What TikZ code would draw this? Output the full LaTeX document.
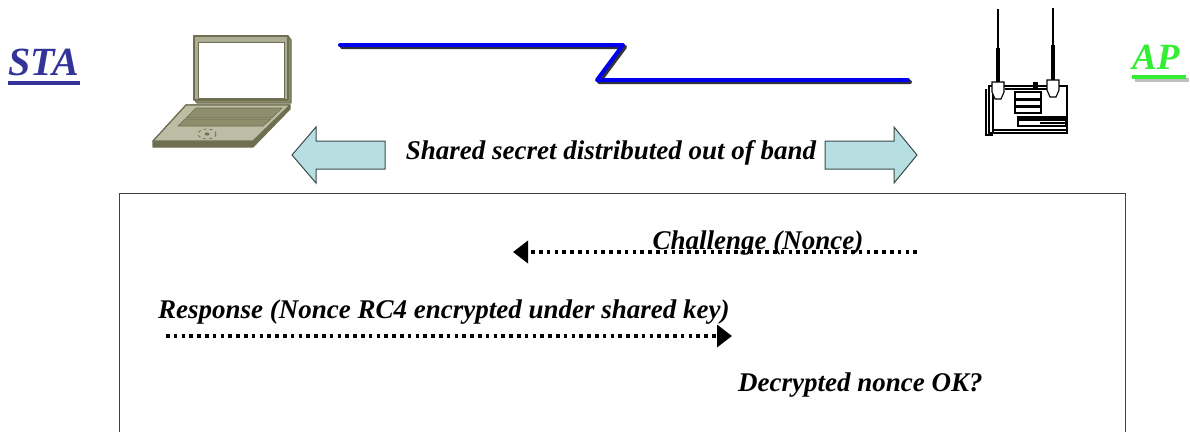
\documentclass[tikz,border=0pt]{standalone}
\usepackage{fontspec}
\setmainfont{Liberation Serif}
\usetikzlibrary{arrows.meta}

\definecolor{stablue}{HTML}{33339A}
\definecolor{apgreen}{HTML}{33EE33}
\definecolor{linkblue}{HTML}{0000EE}
\definecolor{arrowfill}{HTML}{B7DFE2}
\definecolor{arrowedge}{HTML}{3A4A4A}
\definecolor{olive}{HTML}{6E6E50}
\definecolor{olivelight}{HTML}{BDBDA6}
\definecolor{olivekey}{HTML}{8E8E6C}

\tikzset{
  lbl/.style={font=\fontsize{27}{30}\selectfont\bfseries\itshape, inner sep=0pt},
  endlbl/.style={inner sep=0pt, font=\fontsize{40}{44}\selectfont\bfseries\itshape},
  msg/.style={line width=3.6pt, dash pattern=on 3.6pt off 4.2pt,
              -{Triangle[length=15pt,width=22pt]}},
  bigarrow/.style={fill=arrowfill, draw=arrowedge, line width=1pt, line join=miter},
  olivedraw/.style={draw=olive, line width=1.2pt, line join=round},
  apline/.style={draw=black, line width=1.1pt},
}

\begin{document}
\begin{tikzpicture}[x=1pt,y=-1pt]
\useasboundingbox (0,0) rectangle (1190,431);

% end-point titles with underline bars
\node (sta) [endlbl, text=stablue, anchor=base west] at (8,75) {STA};
\fill[stablue] (8,81) rectangle (80,85);
\node (ap) [endlbl, text=apgreen, font=\fontsize{37}{40}\selectfont\bfseries\itshape, anchor=base west] at (1132,69) {AP};
\fill[black!25] (1135,78) rectangle (1189,82);
\fill[apgreen] (1132,75) rectangle (1186,79);

% laptop
\begin{scope}
  % lid
  \filldraw[olivedraw, fill=olivekey] (194,36) -- (288,36) -- (291,40) -- (291,103) -- (197,103) -- (194,99) -- cycle;
  \filldraw[olivedraw, fill=olivelight!80!olive] (194,36) rectangle (288,100);
  \filldraw[draw=olive, line width=0.8pt, fill=white] (198,42) rectangle (284,98);
  \fill[olive] (276,98) rectangle (285,101);
  % base
  \filldraw[olivedraw, fill=olive] (153,141) -- (186,105) -- (290,105) -- (290,109) -- (253,147) -- (153,147) -- cycle;
  \filldraw[olivedraw, fill=olivelight] (153,141) -- (186,105) -- (290,105) -- (253,141) -- cycle;
  % keyboard strips
  \filldraw[draw=olive, line width=0.6pt, fill=olivekey] (196,108) -- (282,108) -- (272,118) -- (186,118) -- cycle;
  \filldraw[draw=olive, line width=0.6pt, fill=olivekey] (185,119) -- (271,119) -- (263,126) -- (178,126) -- cycle;
  % touch pad
  \draw[olive, line width=0.8pt, dashed] (207,134) ellipse (9 and 5);
  \fill[olive] (207,134) ellipse (2.5 and 1.5);
\end{scope}

% access point
\begin{scope}
  % antennas
  \draw[apline] (998,9) -- (998,48);
  \fill (996,48) rectangle (1000,83);
  \draw[apline] (1053,8) -- (1053,45);
  \fill (1051,45) rectangle (1055,80);
  % housing
  \draw[apline, fill=white] (989,86) rectangle (1067,133);
  \draw[apline] (986,89) -- (986,135) -- (993,135);
  \draw[apline] (993,133) -- (993,88);
  \draw[apline] (993,130) -- (1067,130);
  % antenna sockets
  \draw[apline, fill=white] (992,82) -- (1004,82) -- (1004,92) -- (1001,99) -- (995,99) -- (992,92) -- cycle;
  \draw[apline, fill=white] (1047,80) -- (1059,80) -- (1059,90) -- (1056,97) -- (1050,97) -- (1047,90) -- cycle;
  % front panel
  \fill (1005,88) rectangle (1047,90);
  \fill (1033,82) rectangle (1038,90);
  \draw[apline] (1015,92) rectangle (1041,99);
  \draw[apline] (1015,100) rectangle (1041,106);
  \draw[apline] (1015,107) rectangle (1041,113);
  \fill (1018,117) rectangle (1066,121);
  \draw[apline] (1018,117) rectangle (1066,126);
  \fill (1040,122) rectangle (1066,124);
\end{scope}

% wireless link
\draw[black!80, line width=4pt, line cap=round, line join=round]
  (342,47) -- (625,47) -- (599,82) -- (910,82);
\draw[linkblue, line width=4pt, line cap=round, line join=round]
  (340,45) -- (623,45) -- (597,80) -- (908,80);

% out-of-band arrows and caption
\node (oob) [lbl, anchor=base] at (611,159) {Shared secret distributed out of band};
\draw[bigarrow] (385,141) -- (316,141) -- (316,127) -- (292,155) -- (316,183) -- (316,169) -- (385,169) -- cycle;
\draw[bigarrow] (825,141) -- (894,141) -- (894,127) -- (917,155) -- (894,183) -- (894,169) -- (825,169) -- cycle;

% exchange frame
\node (frame) [draw=black!75, line width=1.2pt, minimum width=1006pt, minimum height=260pt,
  anchor=north west, inner sep=0pt] at (119,193) {};

% messages
\coordinate (chalFrom) at (917,252);
\coordinate (chalTo) at (513,252);
\node (chal) [lbl, anchor=base] at (758,249) {Challenge (Nonce)};
\draw[msg] (chalFrom) -- (chalTo);

\node (resp) [lbl, anchor=base west] at (158,318) {Response (Nonce RC4 encrypted under shared key)};
\coordinate (respFrom) at (166,336);
\coordinate (respTo) at (732,336);
\draw[msg] (respFrom) -- (respTo);

\node (check) [lbl, anchor=base west] at (738,391) {Decrypted nonce OK?};
\end{tikzpicture}
\end{document}
